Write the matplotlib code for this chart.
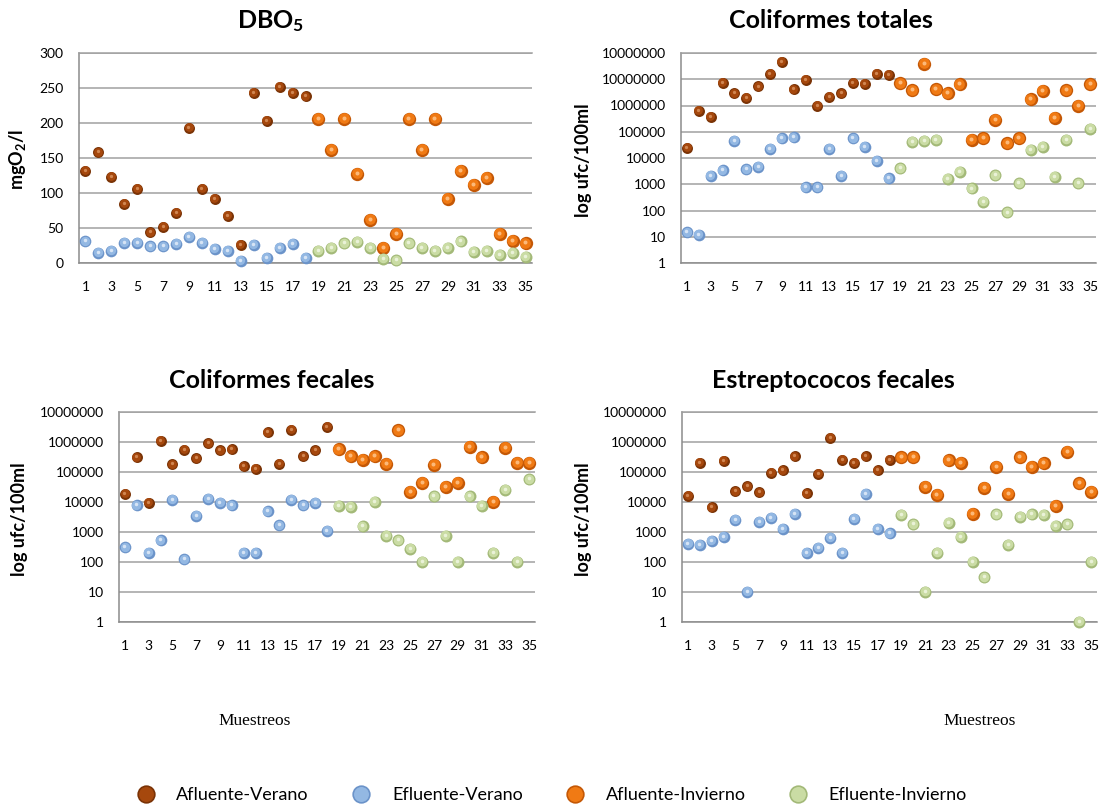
import numpy as np
import matplotlib
matplotlib.use("Agg")
import matplotlib.pyplot as plt
from matplotlib.lines import Line2D
from matplotlib.transforms import offset_copy

plt.rcParams['font.family'] = ['Lato', 'DejaVu Sans']
plt.rcParams['mathtext.fontset'] = 'custom'
plt.rcParams['mathtext.rm'] = 'Lato'
plt.rcParams['mathtext.bf'] = 'Lato:bold'

# muestreos: verano 1-18, invierno 19-35
x_ver = np.arange(1, 19)
x_inv = np.arange(19, 36)

# DBO5 (mgO2/l)
dbo_afl_ver = [132, 158, 123, 85, 106, 44, 52, 72, 193, 106, 92, 67, 26, 243, 203, 252, 243, 238]
dbo_efl_ver = [31, 15, 17, 29, 29, 24, 24, 27, 37, 29, 20, 17, 3, 26, 7, 22, 27, 7]
dbo_afl_inv = [206, 162, 206, 127, 62, 22, 42, 206, 162, 206, 92, 132, 112, 122, 42, 32, 28]
dbo_efl_inv = [17, 22, 28, 30, 22, 6, 4, 28, 22, 17, 22, 31, 16, 17, 12, 15, 9]

# Coliformes totales (ufc/100ml)
ct_afl_ver = [24000, 630000, 370000, 7.2e6, 2.9e6, 2.0e6, 5.3e6, 1.6e7, 4.7e7,
              4.1e6, 9.7e6, 1.0e6, 2.2e6, 2.9e6, 7.2e6, 6.6e6, 1.6e7, 1.45e7]
ct_efl_ver = [15, 12, 2100, 3400, 45000, 3700, 4700, 22000, 57000,
              61000, 770, 770, 22000, 2100, 57000, 26000, 7700, 1700]
ct_afl_inv = [7.0e6, 3.8e6, 3.9e7, 4.1e6, 2.9e6, 6.5e6, 48000, 56000, 280000,
              36000, 57000, 1.7e6, 3.6e6, 340000, 3.8e6, 1.0e6, 6.5e6]
ct_efl_inv = [4000, 42000, 44000, 48000, 1650, 3000, 690, 210, 2200,
              84, 1100, 20000, 26000, 1950, 48000, 1100, 130000]

# Coliformes fecales (ufc/100ml)
cf_afl_ver = [18600, 310000, 9500, 1.07e6, 180000, 540000, 290000, 910000, 530000,
              570000, 155000, 130000, 2.1e6, 185000, 2.5e6, 330000, 530000, 3.2e6]
cf_efl_ver = [310, 7700, 200, 530, 12000, 123, 3500, 13000, 9300,
              7700, 200, 200, 4900, 1670, 12000, 7700, 9300, 1080]
cf_afl_inv = [570000, 330000, 250000, 330000, 190000, 2.45e6, 21500, 44000, 175000,
              32000, 44000, 700000, 310000, 10000, 630000, 205000, 200000]
cf_efl_inv = [7400, 7000, 1550, 10200, 760, 530, 270, 100, 15500,
              740, 100, 15500, 7400, 205, 26000, 100, 57000]

# Estreptococos fecales (ufc/100ml)
ef_afl_ver = [16000, 200000, 6600, 233000, 23000, 33000, 21000, 95000, 114000,
              330000, 19500, 88000, 1.38e6, 255000, 200000, 330000, 114000, 255000]
ef_efl_ver = [400, 370, 510, 700, 2600, 10, 2150, 3000, 1260,
              4000, 200, 300, 630, 200, 2800, 19000, 1260, 900]
ef_afl_inv = [310000, 310000, 32000, 17000, 245000, 200000, 4100, 30000, 148000,
              18500, 310000, 148000, 195000, 7400, 465000, 42000, 21500]
ef_efl_inv = [3700, 1800, 10, 200, 2000, 700, 100, 31, 3900,
              380, 3200, 3900, 3700, 1600, 1800, 1, 100]

series_names = ['Afluente-Verano', 'Efluente-Verano', 'Afluente-Invierno', 'Efluente-Invierno']
log_ticks = [1, 10, 100, 1000, 10000, 100000, 1000000, 10000000]

# (sombra, color, brillo, tamaño)
styles = {
    'Afluente-Verano': ('#7a3306', '#a6480d', '#d9925e', 7.9),
    'Efluente-Verano': ('#6b93c9', '#93b8e3', '#e3edf9', 8.4),
    'Afluente-Invierno': ('#c45806', '#f07a14', '#ffc58c', 9.6),
    'Efluente-Invierno': ('#a3b978', '#cadca4', '#f0f6e2', 8.6),
}

W, H = 1105, 811
fig = plt.figure(figsize=(W / 100, H / 100), dpi=100)


def px_axes(left, right, top, bottom):
    return fig.add_axes([left / W, 1 - bottom / H, (right - left) / W, (bottom - top) / H])


def sphere(ax, x, y, name):
    dark, main, light, ms = styles[name]
    ax.plot(x, y, 'o', ms=ms, mfc=dark, mec='none', zorder=3, clip_on=False)
    t1 = offset_copy(ax.transData, fig=fig, x=-0.3, y=0.45, units='points')
    ax.plot(x, y, 'o', ms=ms * 0.8, mfc=main, mec='none', transform=t1, zorder=4, clip_on=False)
    t2 = offset_copy(ax.transData, fig=fig, x=-0.4, y=0.7, units='points')
    ax.plot(x, y, 'o', ms=ms * 0.3, mfc=light, mec='none', alpha=0.85, transform=t2,
            zorder=5, clip_on=False)


def style_axes(ax):
    ax.set_xlim(0.5, 35.5)
    ax.set_xticks(np.arange(1, 36, 2))
    ax.tick_params(axis='both', length=0, labelsize=10, colors='#000000')
    ax.tick_params(axis='x', pad=13)
    ax.tick_params(axis='y', pad=11)
    ax.grid(axis='y', color='#a0a0a0', lw=1.1)
    ax.set_axisbelow(True)
    ax.spines['right'].set_visible(False)
    ax.spines['top'].set_color('#a0a0a0')
    ax.spines['top'].set_linewidth(1.1)
    for s in ['left', 'bottom']:
        ax.spines[s].set_color('#8c8c8c')
        ax.spines[s].set_linewidth(1.1)


def panel(ax, data, log=True, top_label=None):
    afl_ver, efl_ver, afl_inv, efl_inv = data
    if log:
        ax.set_yscale('log')
    style_axes(ax)
    sphere(ax, x_ver, afl_ver, 'Afluente-Verano')
    sphere(ax, x_ver, efl_ver, 'Efluente-Verano')
    sphere(ax, x_inv, afl_inv, 'Afluente-Invierno')
    sphere(ax, x_inv, efl_inv, 'Efluente-Invierno')
    if log:
        ticks = list(log_ticks)
        labels = [str(t) for t in ticks]
        if top_label:
            ticks.append(ticks[-1] * 10)
            labels.append(top_label)
        ax.set_yticks(ticks)
        ax.set_yticklabels(labels)
        ax.yaxis.set_minor_locator(matplotlib.ticker.NullLocator())
        ax.set_ylim(ticks[0], ticks[-1])


def titles(cx, cy, title, ylab_x, ylab_y, ylab):
    fig.text(cx / W, 1 - cy / H, title, ha='center', va='center',
             fontsize=18, fontweight='bold')
    fig.text(ylab_x / W, 1 - ylab_y / H, ylab, ha='center', va='center',
             rotation=90, fontsize=13, fontweight='bold')


# DBO5
ax1 = px_axes(79, 532, 53, 263)
panel(ax1, (dbo_afl_ver, dbo_efl_ver, dbo_afl_inv, dbo_efl_inv), log=False)
ax1.set_ylim(0, 300)
ax1.set_yticks(np.arange(0, 301, 50))
titles(271, 21, r'$\mathbf{DBO_5}$', 18, 160, r'$\mathbf{mgO_2/l}$')

# Coliformes totales
ax2 = px_axes(681, 1096, 53, 263)
panel(ax2, (ct_afl_ver, ct_efl_ver, ct_afl_inv, ct_efl_inv), top_label='10000000')
titles(831, 21, 'Coliformes totales', 583, 160, 'log ufc/100ml')

# Coliformes fecales
ax3 = px_axes(119, 535, 412, 622)
panel(ax3, (cf_afl_ver, cf_efl_ver, cf_afl_inv, cf_efl_inv))
titles(272, 380, 'Coliformes fecales', 20, 519, 'log ufc/100ml')
fig.text(255 / W, 1 - 721 / H, 'Muestreos', ha='center', va='center',
         fontsize=12.5, family='Liberation Serif')

# Estreptococos fecales
ax4 = px_axes(682, 1097, 412, 622)
panel(ax4, (ef_afl_ver, ef_efl_ver, ef_afl_inv, ef_efl_inv))
titles(833, 380, 'Estreptococos fecales', 584, 519, 'log ufc/100ml')
fig.text(980 / W, 1 - 721 / H, 'Muestreos', ha='center', va='center',
         fontsize=12.5, family='Liberation Serif')

# leyenda comun
handles = [Line2D([], [], ls='none', marker='o', ms=12, mfc=styles[n][1],
                  mec=styles[n][0], mew=1.2) for n in series_names]
fig.legend(handles, series_names, loc='center', bbox_to_anchor=(551 / W, 1 - 795 / H),
           ncol=4, frameon=False, fontsize=13, handlelength=1.2, handletextpad=1.1,
           columnspacing=2.3)

fig.savefig('out.png', dpi=100, facecolor='white')
